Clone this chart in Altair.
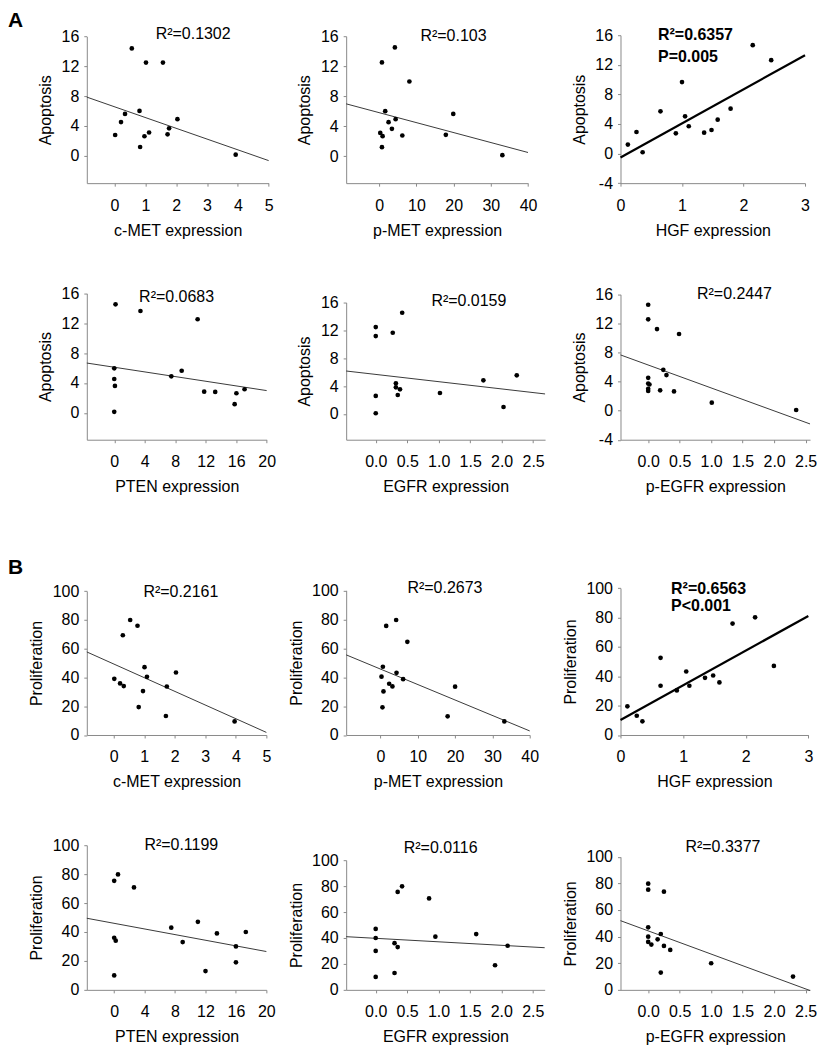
import altair as alt
import pandas as pd

FONT = "Liberation Sans"

# ---------------- data ----------------
# A1: c-MET vs Apoptosis
a1_x = [0.02, 0.21, 0.34, 0.56, 0.81, 0.83, 0.97, 1.02, 1.12, 1.57, 1.72, 1.77, 2.04, 3.93]
a1_y = [2.77, 4.5, 5.6, 14.4, 6.0, 1.16, 2.6, 12.5, 3.1, 12.5, 2.86, 3.66, 4.9, 0.13]
a1_lx = [-0.9, 5.0]
a1_ly = [7.86, -0.67]
# A2: p-MET vs Apoptosis
a2_x = [0.72, 4.2, 8.1, 1.6, 2.5, 4.4, 3.4, 0.27, 0.9, 6.2, 0.72, 17.9, 19.9, 33.1]
a2_y = [12.5, 14.5, 9.96, 6.0, 4.53, 4.93, 3.64, 3.1, 2.67, 2.76, 1.2, 2.84, 5.64, 0.13]
a2_lx = [-8.9, 40.0]
a2_ly = [6.98, 0.49]
# A3: HGF vs Apoptosis
a3_x = [0.12, 0.26, 0.36, 0.65, 0.90, 1.0, 1.05, 1.11, 1.36, 1.48, 1.58, 1.79, 2.15, 2.45]
a3_y = [1.21, 2.92, 0.18, 5.71, 2.74, 9.66, 5.03, 3.69, 2.83, 3.19, 4.58, 6.07, 14.65, 12.63]
a3_lx = [0.0, 3.0]
a3_ly = [-0.54, 13.3]
# A4: PTEN vs Apoptosis
a4_x = [0.17, 3.44, 10.94, 0.0, 0.0, 0.09, 0.0, 7.49, 8.85, 11.8, 13.25, 16.03, 15.8, 17.1]
a4_y = [14.53, 13.64, 12.53, 5.96, 4.53, 3.6, 0.13, 4.89, 5.64, 2.84, 2.8, 2.62, 1.16, 3.16]
a4_lx = [-3.6, 20.0]
a4_ly = [6.67, 2.98]
# A5: EGFR vs Apoptosis
a5_x = [0.0, 0.0, 0.0, 0.0, 0.27, 0.42, 0.32, 0.32, 0.385, 0.35, 1.02, 1.71, 2.03, 2.24]
a5_y = [12.46, 11.17, 2.58, 0.1, 11.65, 14.52, 4.39, 3.82, 3.53, 2.72, 3.0, 4.82, 1.0, 5.54]
a5_lx = [-0.47, 2.69]
a5_ly = [6.16, 2.87]
# A6: p-EGFR vs Apoptosis
a6_x = [0.0, 0.0, 0.14, 0.49, 0.24, 0.29, 0.0, 0.0, 0.02, 0.0, 0.0, 0.19, 0.41, 1.01, 2.35]
a6_y = [14.57, 12.56, 11.23, 10.55, 5.62, 4.89, 4.52, 3.74, 3.6, 3.0, 2.7, 2.79, 2.65, 1.1, 0.09]
a6_lx = [-0.44, 2.57]
a6_ly = [7.67, -1.83]
# B1: c-MET vs Proliferation
b1_x = [0.54, 0.78, 0.30, 1.01, 1.09, 2.04, 0.02, 0.21, 0.33, 0.96, 1.74, 0.82, 1.71, 3.96]
b1_y = [79.9, 75.9, 69.3, 47.1, 40.4, 43.4, 39.0, 35.8, 34.0, 30.5, 33.7, 19.4, 13.2, 9.4]
b1_lx = [-0.88, 5.0]
b1_ly = [57.7, 1.8]
# B2: p-MET vs Proliferation
b2_x = [4.2, 1.53, 7.2, 0.64, 0.27, 4.3, 6.07, 2.33, 3.2, 0.8, 20.0, 0.53, 18.0, 33.2]
b2_y = [79.5, 75.4, 64.4, 47.2, 40.3, 43.0, 38.6, 35.4, 33.6, 30.1, 33.4, 19.1, 12.9, 9.4]
b2_lx = [-9.2, 40.0]
b2_ly = [55.4, 2.8]
# B3: HGF vs Proliferation
b3_x = [2.15, 1.79, 0.64, 2.45, 1.05, 1.35, 1.48, 1.58, 0.64, 1.10, 0.90, 0.11, 0.26, 0.35]
b3_y = [80.1, 75.8, 52.5, 47.0, 43.2, 38.9, 40.5, 35.8, 33.5, 33.5, 30.3, 19.5, 13.1, 9.3]
b3_lx = [0.0, 3.0]
b3_ly = [10.2, 81.0]
# B4: PTEN vs Proliferation
b4_x = [0.0, 0.5, 2.6, 0.0, 0.2, 0.0, 7.5, 9.0, 11.0, 12.0, 13.5, 16.0, 16.0, 17.3]
b4_y = [75.4, 79.8, 70.8, 36.0, 34.0, 10.0, 43.0, 33.0, 47.0, 13.0, 39.0, 30.0, 19.0, 40.0]
b4_lx = [-3.6, 20.0]
b4_ly = [49.5, 26.5]
# B5: EGFR vs Proliferation
b5_x = [0.0, 0.0, 0.0, 0.0, 0.35, 0.42, 0.3, 0.35, 0.3, 0.85, 0.95, 1.6, 1.9, 2.1]
b5_y = [47.0, 40.0, 30.0, 10.0, 75.5, 79.8, 36.0, 33.0, 13.0, 70.5, 41.0, 43.0, 19.0, 34.0]
b5_lx = [-0.47, 2.69]
b5_ly = [41.0, 32.5]
# B6: p-EGFR vs Proliferation
b6_x = [0.0, 0.0, 0.25, 0.0, 0.0, 0.0, 0.05, 0.15, 0.2, 0.25, 0.2, 0.35, 1.0, 2.3]
b6_y = [79.8, 75.3, 73.8, 47.0, 40.0, 36.0, 34.0, 38.0, 42.0, 33.0, 13.0, 30.0, 20.0, 10.0]
b6_lx = [-0.44, 2.57]
b6_ly = [52.0, -0.5]

x_titles = ["c-MET expression", "p-MET expression", "HGF expression",
            "PTEN expression", "EGFR expression", "p-EGFR expression"]
r2_labels = ["R²=0.1302", "R²=0.103", "R²=0.6357", "R²=0.0683", "R²=0.0159", "R²=0.2447",
             "R²=0.2161", "R²=0.2673", "R²=0.6563", "R²=0.1199", "R²=0.0116", "R²=0.3377"]
p_labels = {2: "P=0.005", 8: "P<0.001"}
panel_letters = {0: "A", 6: "B"}

ticks_cmet = [0, 1, 2, 3, 4, 5]
ticks_pmet = [0, 10, 20, 30, 40]
ticks_hgf = [0, 1, 2, 3]
ticks_pten = [0, 4, 8, 12, 16, 20]
ticks_egfr = [0.0, 0.5, 1.0, 1.5, 2.0, 2.5]
ticks_apo = [0, 4, 8, 12, 16]
ticks_apo_neg = [-4, 0, 4, 8, 12, 16]
ticks_pro = [0, 20, 40, 60, 80, 100]

# ---------------- panel settings ----------------
INT = "'' + datum.value"
DEC = "format(datum.value, '.1f')"
P = [
    dict(x=a1_x, y=a1_y, lx=a1_lx, ly=a1_ly, xdom=[-0.9, 5], xt=ticks_cmet, xf=INT, ydom=[-3.7, 16], yt=ticks_apo, yl="Apoptosis", pw=182.3, ph=147.0, tx=106.6, ty=2.7),
    dict(x=a2_x, y=a2_y, lx=a2_lx, ly=a2_ly, xdom=[-8.9, 40], xt=ticks_pmet, xf=INT, ydom=[-3.6, 16], yt=ticks_apo, yl="Apoptosis", pw=182.3, ph=147.3, tx=107.6, ty=4.3),
    dict(x=a3_x, y=a3_y, lx=a3_lx, ly=a3_ly, xdom=[0, 3], xt=ticks_hgf, xf=INT, ydom=[-4, 16], yt=ticks_apo_neg, yl="Apoptosis", pw=185.0, ph=148.3, tx=37.6, ty=4.6, pty=27.0),
    dict(x=a4_x, y=a4_y, lx=a4_lx, ly=a4_ly, xdom=[-3.6, 20], xt=ticks_pten, xf=INT, ydom=[-3.6, 16], yt=ticks_apo, yl="Apoptosis", pw=180.3, ph=146.7, tx=90.0, ty=8.3),
    dict(x=a5_x, y=a5_y, lx=a5_lx, ly=a5_ly, xdom=[-0.47, 2.69], xt=ticks_egfr, xf=DEC, ydom=[-3.7, 16], yt=ticks_apo, yl="Apoptosis", pw=199.4, ph=137.6, tx=123.0, ty=3.3),
    dict(x=a6_x, y=a6_y, lx=a6_lx, ly=a6_ly, xdom=[-0.44, 2.57], xt=ticks_egfr, xf=DEC, ydom=[-4, 16], yt=ticks_apo_neg, yl="Apoptosis", pw=190.0, ph=145.7, tx=114.3, ty=4.4),
    dict(x=b1_x, y=b1_y, lx=b1_lx, ly=b1_ly, xdom=[-0.88, 5], xt=ticks_cmet, xf=INT, ydom=[0, 100], yt=ticks_pro, yl="Proliferation", pw=180.0, ph=144.3, tx=94.3, ty=6.0),
    dict(x=b2_x, y=b2_y, lx=b2_lx, ly=b2_ly, xdom=[-9.2, 40], xt=ticks_pmet, xf=INT, ydom=[0, 100], yt=ticks_pro, yl="Proliferation", pw=184.0, ph=145.0, tx=99.0, ty=3.0),
    dict(x=b3_x, y=b3_y, lx=b3_lx, ly=b3_ly, xdom=[0, 3], xt=ticks_hgf, xf=INT, ydom=[0, 100], yt=ticks_pro, yl="Proliferation", pw=188.3, ph=147.3, tx=50.7, ty=5.5, pty=23.5),
    dict(x=b4_x, y=b4_y, lx=b4_lx, ly=b4_ly, xdom=[-3.6, 20], xt=ticks_pten, xf=INT, ydom=[0, 100], yt=ticks_pro, yl="Proliferation", pw=180.0, ph=145.0, tx=94.7, ty=5.0),
    dict(x=b5_x, y=b5_y, lx=b5_lx, ly=b5_ly, xdom=[-0.47, 2.69], xt=ticks_egfr, xf=DEC, ydom=[0, 100], yt=ticks_pro, yl="Proliferation", pw=199.0, ph=130.0, tx=94.7, ty=-6.7),
    dict(x=b6_x, y=b6_y, lx=b6_lx, ly=b6_ly, xdom=[-0.44, 2.57], xt=ticks_egfr, xf=DEC, ydom=[0, 100], yt=ticks_pro, yl="Proliferation", pw=190.0, ph=133.4, tx=102.7, ty=-4.3),
]

CELL_W = [199.7, 214.7, 190.0]
CELL_H = [148.3, 156.5, 195.5, 155.0]


def make_panel(i):
    p = P[i]
    cw = CELL_W[i % 3]
    ch = CELL_H[i // 3]
    top = ch - p["ph"]
    bold = i in p_labels
    xs = alt.Scale(domain=p["xdom"], range=[0, p["pw"]], nice=False, zero=False)
    ys = alt.Scale(domain=p["ydom"], range=[ch, top], nice=False, zero=False)
    xa = alt.Axis(values=p["xt"], title=x_titles[i % 6 if i < 6 else i - 6], labelExpr=p["xf"])
    ya = alt.Axis(values=p["yt"], title=p["yl"], labelExpr=INT)
    X = alt.X("x:Q", scale=xs, axis=xa)
    Y = alt.Y("y:Q", scale=ys, axis=ya)

    line = alt.Chart(pd.DataFrame({"x": p["lx"], "y": p["ly"]})).mark_line(
        color="black" if bold else "#3a3a3a", strokeWidth=2.2 if bold else 1.0
    ).encode(x=X, y=Y)
    pts = alt.Chart(pd.DataFrame({"x": p["x"], "y": p["y"]})).mark_circle(
        size=22, color="black", opacity=1
    ).encode(x=X, y=Y)

    layers = [line, pts]
    txt = alt.Chart(pd.DataFrame({"t": [r2_labels[i]]})).mark_text(
        font=FONT, fontSize=16, fontWeight="bold" if bold else "normal",
        align="left" if bold else "center", baseline="alphabetic", color="black"
    ).encode(text="t:N", x=alt.value(p["tx"]), y=alt.value(top + p["ty"]))
    layers.append(txt)
    if bold:
        ptxt = alt.Chart(pd.DataFrame({"t": [p_labels[i]]})).mark_text(
            font=FONT, fontSize=16, fontWeight="bold", align="left",
            baseline="alphabetic", color="black"
        ).encode(text="t:N", x=alt.value(p["tx"]), y=alt.value(top + p["pty"]))
        layers.append(ptxt)
    if i in panel_letters:
        off = 27.0 if i == 0 else 34.5
        let = alt.Chart(pd.DataFrame({"t": [panel_letters[i]]})).mark_text(
            font=FONT, fontSize=21, fontWeight="bold", align="left",
            baseline="top", color="black"
        ).encode(text="t:N", x=alt.value(-79), y=alt.value(top - off))
        layers.append(let)
    return alt.layer(*layers).properties(width=cw, height=ch)


cells = [make_panel(i) for i in range(12)]

chart = alt.concat(
    *cells, columns=3, spacing={"row": 100, "column": 60}, bounds="flush", align="each"
).properties(padding=0).configure_view(stroke=None).configure_axis(
    domainColor="#8a8a8a", tickColor="#8a8a8a", tickSize=3, grid=False,
    labelFont=FONT, labelFontSize=16, labelColor="black",
    titleFont=FONT, titleFontSize=16, titleFontWeight="normal", titleColor="black",
    labelFlush=False, labelOverlap=False, domainWidth=1, tickWidth=1
).configure_axisX(labelPadding=11, titlePadding=9).configure_axisY(labelPadding=5, titlePadding=7.5)

chart.save("out.html", embed_options={"renderer": "svg", "actions": False})
